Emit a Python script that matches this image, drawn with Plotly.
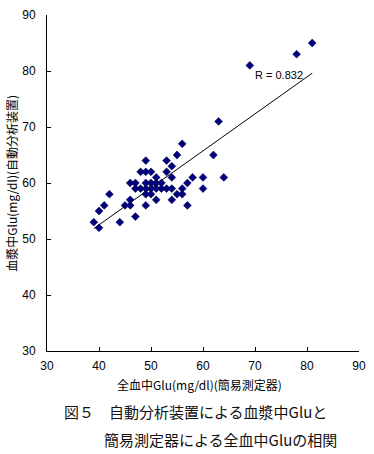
import numpy as np
import plotly.graph_objects as go

# 全血中Glu (簡易測定器), mg/dl
whole_blood_glu = [56, 55, 62, 49, 53, 54, 48, 49, 50, 53, 51, 54, 58, 60, 64,
                   46, 47, 49, 50, 51, 52, 57,
                   47, 48, 49, 50, 51, 52, 53, 54, 56, 60,
                   42, 49, 50, 55, 56,
                   46, 51, 54,
                   41, 45, 46, 49, 57,
                   40, 47, 39, 44, 40,
                   69, 78, 81, 63]
# 血漿中Glu (自動分析装置), mg/dl
plasma_glu = [67, 65, 65, 64, 64, 63, 62, 62, 62, 62, 61, 61, 61, 61, 61,
              60, 60, 60, 60, 60, 60, 60,
              59, 59, 59, 59, 59, 59, 59, 59, 59, 59,
              58, 58, 58, 58, 58,
              57, 57, 57,
              56, 56, 56, 56, 56,
              55, 54, 53, 53, 52,
              81, 83, 85, 71]

tick_values = [30, 40, 50, 60, 70, 80, 90]
r_label = "R = 0.832"
x_title = "全血中Glu(mg/dl)(簡易測定器)"
y_title = "血漿中Glu(mg/dl)(自動分析装置)"
caption_1 = "図５　自動分析装置による血漿中Gluと"
caption_2 = "簡易測定器による全血中Gluの相関"

xa = np.array(whole_blood_glu, dtype=float)
ya = np.array(plasma_glu, dtype=float)
slope, intercept = np.polyfit(xa, ya, 1)
line_x = np.array([xa.min(), xa.max()])
line_y = slope * line_x + intercept

jp = "Noto Sans CJK JP"
num_font = "Liberation Sans Narrow, Arial Narrow, Liberation Sans, sans-serif"

fig = go.Figure()
fig.add_trace(go.Scatter(
    x=line_x, y=line_y, mode="lines",
    line=dict(color="black", width=1), hoverinfo="skip", showlegend=False))
fig.add_trace(go.Scatter(
    x=whole_blood_glu, y=plasma_glu, mode="markers",
    marker=dict(symbol="diamond", size=6, color="#000080",
                line=dict(color="#000040", width=0.6)),
    showlegend=False))

axis_common = dict(
    range=[30, 90], tickvals=tick_values, ticks="inside", ticklen=4,
    tickcolor="black", tickwidth=1, showline=True, linecolor="black",
    linewidth=1, showgrid=False, zeroline=False, mirror=False,
    tickfont=dict(family=num_font, size=12, color="black"),
)
fig.update_xaxes(**axis_common, ticklabelstandoff=4)
fig.update_yaxes(**axis_common, ticklabelstandoff=8)

fig.add_annotation(x=(202 - 47) / 318, y=(351 - 385) / 343, xref="paper", yref="paper",
                   text=x_title, showarrow=False, xanchor="center", yanchor="middle",
                   font=dict(family=jp, size=12, color="black"))
fig.add_annotation(x=(10 - 47) / 318, y=0.5, xref="paper", yref="paper",
                   text=y_title, showarrow=False, textangle=-90,
                   xanchor="center", yanchor="middle",
                   font=dict(family=jp, size=12, color="black"))
fig.add_annotation(x=74.6, y=79.3, xref="x", yref="y", text=r_label,
                   showarrow=False, xanchor="center", yanchor="middle",
                   font=dict(family="Liberation Sans, Arial, sans-serif", size=11, color="black"))
fig.add_annotation(x=(62 - 47) / 318, y=(351 - 413) / 343, xref="paper", yref="paper",
                   text=caption_1, showarrow=False, xanchor="left", yanchor="middle",
                   font=dict(family=jp, size=15, color="#111111"))
fig.add_annotation(x=(103 - 47) / 318, y=(351 - 441) / 343, xref="paper", yref="paper",
                   text=caption_2, showarrow=False, xanchor="left", yanchor="middle",
                   font=dict(family=jp, size=15, color="#111111"))

fig.update_layout(
    width=374, height=454, autosize=False,
    margin=dict(l=47, r=9, t=8, b=103, pad=0),
    plot_bgcolor="white", paper_bgcolor="white",
    font=dict(family=jp, color="black"),
)

fig.write_html("out.html", config={"displayModeBar": False},
               post_script="document.body.style.margin='0';")
